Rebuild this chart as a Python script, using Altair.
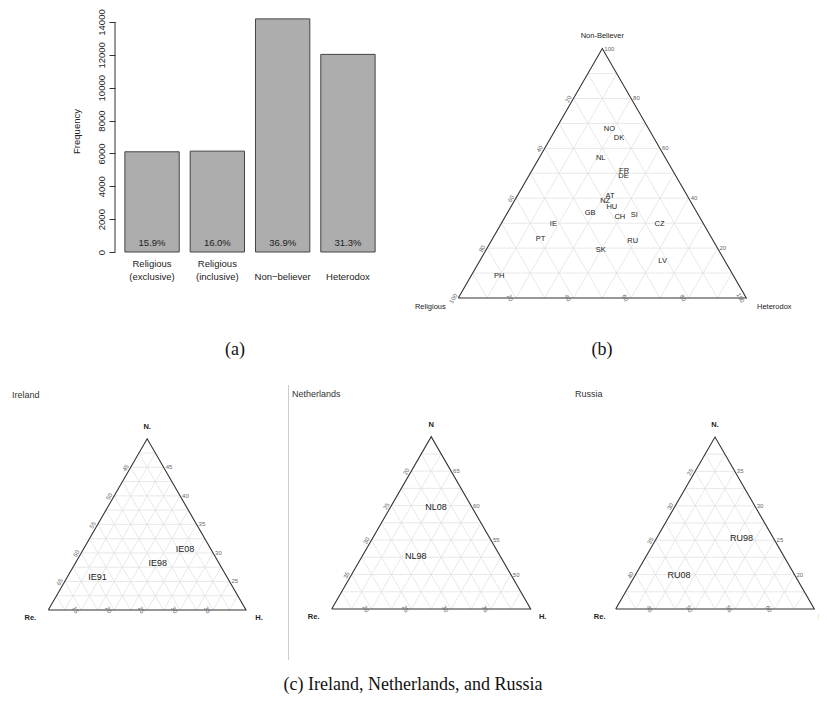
import math
import altair as alt
import pandas as pd

# ---------------- (a) bar chart data ----------------
BAR_CATS = ["Religious\n(exclusive)", "Religious\n(inclusive)", "Non\u2212believer", "Heterodox"]
BAR_FREQ = [6100, 6140, 14190, 12030]
BAR_PCT = ["15.9%", "16.0%", "36.9%", "31.3%"]
BAR_YTICKS = [0, 2000, 4000, 6000, 8000, 10000, 12000, 14000]

# ---------------- (b) ternary data (percent) ----------------
B_CODES = ["NO", "DK", "NL", "FR", "DE", "AT", "NZ", "HU", "GB", "CH", "SI", "IE", "CZ", "PT", "RU", "SK", "LV", "PH"]
B_NONBELIEVER = [67.7, 64.2, 56.3, 51.1, 48.9, 40.8, 38.8, 36.4, 34.2, 32.4, 33.2, 29.6, 29.7, 23.8, 22.7, 19.1, 14.7, 8.8]
B_HETERODOX = [18.6, 23.7, 21.3, 32.0, 32.9, 32.3, 31.6, 35.1, 28.7, 39.9, 44.5, 18.2, 55.0, 16.7, 49.2, 39.9, 63.6, 9.8]
B_TICKS = [20, 40, 60, 80, 100]

# ---------------- (c) country time series ----------------
IE_CODES = ["IE91", "IE98", "IE08"]
IE_N = [25.7, 28.2, 30.7]
IE_H = [14.6, 22.5, 25.4]
IE_N_TICKS = [25, 30, 35, 40, 45]
IE_H_TICKS = [15, 20, 25, 30, 35]
IE_R_TICKS = [45, 50, 55, 60, 65]

NL_CODES = ["NL98", "NL08"]
NL_N = [52.7, 59.8]
NL_H = [21.7, 20.7]
NL_N_TICKS = [50, 55, 60, 65]
NL_H_TICKS = [20, 25, 30, 35]
NL_R_TICKS = [20, 25, 30, 35]

RU_CODES = ["RU98", "RU08"]
RU_N = [25.3, 19.95]
RU_H = [50.7, 45.5]
RU_N_TICKS = [20, 25, 30, 35]
RU_H_TICKS = [45, 50, 55, 60]
RU_R_TICKS = [25, 30, 35, 40]

# ---------------- styling ----------------
FONT = "Liberation Sans"
SERIF = "Liberation Serif"
S3 = math.sqrt(3) / 2
GRID = "#e2e2e2"
EDGE = "#333333"
TICKC = "#666666"
TXT = "#222222"
ONE = pd.DataFrame({"k": [0]})


def ternary(cfg, extra=()):
    k, W, H, x0, y0 = cfg["k"], cfg["W"], cfg["H"], cfg["x0"], cfg["y0"]
    nmin, hmin, L = cfg["nmin"], cfg["hmin"], cfg["L"]
    xs = alt.Scale(domain=[-x0 / k, (W - x0) / k], nice=False, zero=False)
    ys = alt.Scale(domain=[-(H - y0) / k, y0 / k], nice=False, zero=False)

    def enc():
        return dict(x=alt.X("x:Q", scale=xs, axis=None), y=alt.Y("y:Q", scale=ys, axis=None))

    layers = []
    ndiv = int(round(L / cfg["step"]))
    fr = pd.DataFrame({"f": [i / ndiv for i in range(1, ndiv)]})
    grid_exprs = [
        ("datum.f/2", f"datum.f*{S3}", "1-datum.f/2", f"datum.f*{S3}"),
        ("datum.f", "0", "datum.f+(1-datum.f)/2", f"(1-datum.f)*{S3}"),
        ("1-datum.f", "0", "(1-datum.f)/2", f"(1-datum.f)*{S3}"),
    ]
    for ex in grid_exprs:
        layers.append(
            alt.Chart(fr)
            .transform_calculate(x=ex[0], y=ex[1], xe=ex[2], ye=ex[3])
            .mark_rule(color=GRID, strokeWidth=0.8)
            .encode(**enc(), x2="xe:Q", y2="ye:Q")
        )
    tri = pd.DataFrame({"tn": [0, 0, 1, 0], "th": [0, 1, 0, 0], "o": [0, 1, 2, 3]})
    layers.append(
        alt.Chart(tri)
        .transform_calculate(x="datum.th + datum.tn/2", y=f"datum.tn*{S3}")
        .mark_line(color=EDGE, strokeWidth=1.1, strokeJoin="miter")
        .encode(**enc(), order="o:Q")
    )
    tfs = cfg["tickfs"]
    # right edge: N
    layers.append(
        alt.Chart(pd.DataFrame({"v": cfg["nt"]}))
        .transform_calculate(t=f"(datum.v-{nmin})/{L}", x="1-datum.t/2", y=f"datum.t*{S3}")
        .mark_text(align="left", baseline="middle", dx=2, fontSize=tfs, color=TICKC, font=FONT)
        .encode(**enc(), text=alt.Text("v:Q", format="d"))
    )
    # left edge: R
    layers.append(
        alt.Chart(pd.DataFrame({"v": cfg["rt"]}))
        .transform_calculate(t=f"(100-{hmin}-datum.v-{nmin})/{L}", x="datum.t/2", y=f"datum.t*{S3}")
        .mark_text(align="center", baseline="middle", dx=-3, dy=-4, angle=300, fontSize=tfs, color=TICKC, font=FONT)
        .encode(**enc(), text=alt.Text("v:Q", format="d"))
    )
    # bottom edge: H
    layers.append(
        alt.Chart(pd.DataFrame({"v": cfg["ht"]}))
        .transform_calculate(t=f"(datum.v-{hmin})/{L}", x="datum.t", y="0")
        .mark_text(align="center", baseline="middle", dx=-3, dy=5, angle=60, fontSize=tfs, color=TICKC, font=FONT)
        .encode(**enc(), text=alt.Text("v:Q", format="d"))
    )
    # points (labels)
    pts = pd.DataFrame({"code": cfg["codes"], "n": cfg["N"], "h": cfg["Hv"]})
    layers.append(
        alt.Chart(pts)
        .transform_calculate(
            x=f"(datum.h-{hmin})/{L} + (datum.n-{nmin})/(2*{L})",
            y=f"(datum.n-{nmin})/{L}*{S3}",
        )
        .mark_text(fontSize=cfg["ptfs"], color=TXT, font=FONT)
        .encode(**enc(), text="code:N")
    )
    # vertex labels: top, left, right
    vpos = [(1, 0), (0, 0), (0, 1)]
    for name, (tn, th), (dx, dy) in zip(cfg["vnames"], vpos, cfg["voff"]):
        layers.append(
            alt.Chart(pd.DataFrame({"name": [name], "tn": [tn], "th": [th]}))
            .transform_calculate(x="datum.th + datum.tn/2", y=f"datum.tn*{S3}")
            .mark_text(dx=dx, dy=dy, fontSize=cfg["vfs"], fontWeight=cfg["vfw"], color=TXT,
                       font=FONT, clip=True)
            .encode(**enc(), text="name:N")
        )
    if cfg.get("title"):
        tx, ty = cfg["tpos"]
        layers.append(
            alt.Chart(ONE)
            .mark_text(align="left", baseline="middle", fontSize=9, color="#333333", font=FONT)
            .encode(x=alt.value(tx), y=alt.value(ty), text=alt.value(cfg["title"]))
        )
    layers.extend(extra)
    return alt.layer(*layers).properties(width=W, height=H)


# ---------------- (a) bar chart ----------------
bar_df = pd.DataFrame({"cat": BAR_CATS, "freq": BAR_FREQ, "pct": BAR_PCT})
LBL_EXPR = "indexof(datum.label, '\\n') >= 0 ? split(datum.label, '\\n') : ['', datum.label]"
BAR_H = 242          # plot height (page y 8 .. 250)
PX_PER_UNIT = 230 / 14000
xscale = alt.Scale(paddingInner=0.168, paddingOuter=0.09)
yscale = alt.Scale(domain=[0, BAR_H / PX_PER_UNIT], nice=False)
xaxis = alt.Axis(title=None, domain=False, ticks=False, labelAngle=0, labelPadding=6,
                 labelFontSize=9.5, labelLineHeight=13.5, labelFont=FONT, labelColor=TXT,
                 labelExpr=LBL_EXPR)
yaxis = alt.Axis(values=BAR_YTICKS, format="d", title="Frequency", grid=False, offset=4, tickSize=6,
                 domain=False, labelAngle=270, labelAlign="center", labelBaseline="alphabetic",
                 labelPadding=5, labelFontSize=9.5, labelFont=FONT, labelColor=TXT,
                 labelFlush=False, labelOverlap=False, titleFont=FONT, titleFontSize=9.5,
                 titleFontWeight="normal", titleColor=TXT, titlePadding=15, tickColor=EDGE)
xb = alt.X("cat:N", sort=BAR_CATS, scale=xscale, axis=xaxis)
bars = alt.Chart(bar_df).mark_bar(color="#adadad", stroke="#444444", strokeWidth=1).encode(
    x=xb, y=alt.Y("freq:Q", scale=yscale, axis=yaxis))
pct = (
    alt.Chart(bar_df)
    .transform_calculate(z="0")
    .mark_text(dy=-9, fontSize=9.5, font=FONT, color=TXT)
    .encode(x=xb, y=alt.Y("z:Q", scale=yscale, axis=yaxis), text="pct:N")
)
axis_line = (
    alt.Chart(pd.DataFrame({"lo": [min(BAR_YTICKS)], "hi": [max(BAR_YTICKS)]}))
    .mark_rule(color=EDGE, strokeWidth=1)
    .encode(x=alt.value(-4), y=alt.Y("lo:Q", scale=yscale, axis=yaxis), y2="hi:Q")
)
cap_a = (
    alt.Chart(ONE).mark_text(font=SERIF, fontSize=18, baseline="middle", color="#111111")
    .encode(x=alt.value(116), y=alt.value(340), text=alt.value("(a)"))
)
bar_chart = alt.layer(bars, pct, axis_line, cap_a).properties(width=262, height=BAR_H)

spacer = (
    alt.Chart(ONE).mark_point(opacity=0, size=1)
    .encode(x=alt.value(2), y=alt.value(2))
    .properties(width=111, height=10)
)

# ---------------- (b) ternary ----------------
cap_b = (
    alt.Chart(ONE).mark_text(font=SERIF, fontSize=18, baseline="middle", color="#111111")
    .encode(x=alt.value(221), y=alt.value(340), text=alt.value("(b)"))
)
tern_b = ternary(dict(
    k=288, W=438, H=362, x0=77.3, y0=288, nmin=0, hmin=0, L=100, step=10,
    nt=B_TICKS, rt=B_TICKS, ht=B_TICKS, tickfs=6,
    codes=B_CODES, N=B_NONBELIEVER, Hv=B_HETERODOX, ptfs=7.5,
    vnames=["Non-Believer", "Religious", "Heterodox"],
    voff=[(0, -13), (-28, 9), (28, 9)], vfs=7.5, vfw="normal",
), extra=[cap_b])

# ---------------- (c) panels ----------------
tern_ie = ternary(dict(
    k=197.7, W=280, H=285, x0=40.3, y0=230, nmin=20, hmin=10, L=30, step=2.5,
    nt=IE_N_TICKS, rt=IE_R_TICKS, ht=IE_H_TICKS, tickfs=6,
    codes=IE_CODES, N=IE_N, Hv=IE_H, ptfs=9,
    vnames=["N.", "Re.", "H."], voff=[(0, -12), (-18, 8), (13, 8)], vfs=7.5, vfw="bold",
    title="Ireland", tpos=(4, 15),
))

sep = (
    alt.Chart(ONE).mark_rule(color="#cccccc", strokeWidth=1)
    .encode(x=alt.value(0.5), y=alt.value(5), y2=alt.value(280))
)
cap_c = (
    alt.Chart(ONE).mark_text(font=SERIF, fontSize=18, baseline="middle", color="#111111")
    .encode(x=alt.value(125), y=alt.value(305), text=alt.value("(c) Ireland, Netherlands, and Russia"))
)
tern_nl = ternary(dict(
    k=199, W=272, H=285, x0=43.7, y0=229, nmin=45, hmin=15, L=25, step=2.5,
    nt=NL_N_TICKS, rt=NL_R_TICKS, ht=NL_H_TICKS, tickfs=6,
    codes=NL_CODES, N=NL_N, Hv=NL_H, ptfs=9,
    vnames=["N", "Re.", "H."], voff=[(0, -12), (-18, 8), (12, 8)], vfs=7.5, vfw="bold",
    title="Netherlands", tpos=(4, 14),
), extra=[sep, cap_c])

tern_ru = ternary(dict(
    k=198.6, W=259, H=285, x0=55.7, y0=229, nmin=15, hmin=40, L=25, step=2.5,
    nt=RU_N_TICKS, rt=RU_R_TICKS, ht=RU_H_TICKS, tickfs=6,
    codes=RU_CODES, N=RU_N, Hv=RU_H, ptfs=9,
    vnames=["N.", "Re.", "H."], voff=[(0, -12), (-16, 8), (8, 8)], vfs=7.5, vfw="bold",
    title="Russia", tpos=(15, 14),
))

top = alt.hconcat(spacer, bar_chart, tern_b, spacing=0, bounds="flush")
bottom = alt.hconcat(tern_ie, tern_nl, tern_ru, spacing=0, bounds="flush")
chart = (
    alt.vconcat(top, bottom, spacing=8, bounds="full")
    .properties(padding=0, background="white")
    .configure_view(stroke=None)
)
chart.save("out.html", embed_options={"renderer": "svg", "actions": False})
